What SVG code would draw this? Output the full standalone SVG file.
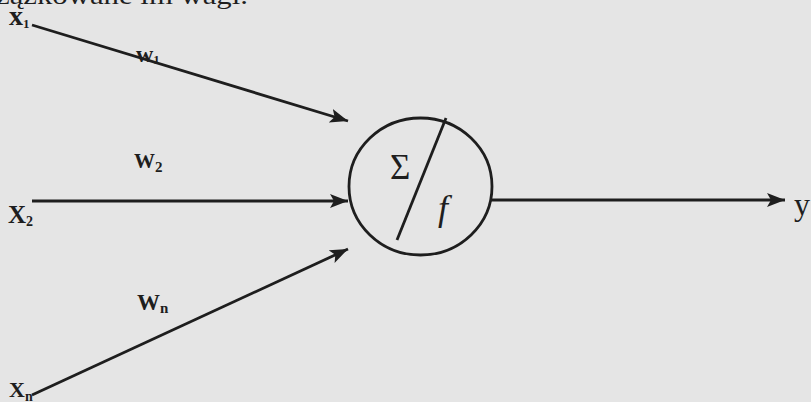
<svg xmlns="http://www.w3.org/2000/svg" width="811" height="402" viewBox="0 0 811 402">
<defs>
<style>
.ln{stroke:#1e1e1e;stroke-width:2.8;fill:none}
.lbl{font-family:"Liberation Serif","DejaVu Serif",serif;fill:#1e1e1e}
.b{font-weight:bold}
</style>
<marker id="ah" markerUnits="userSpaceOnUse" markerWidth="20" markerHeight="16" refX="18" refY="7" orient="auto">
<path d="M0,0 L18,7 L0,14 L4,7 z" fill="#1e1e1e"/>
</marker>
</defs>
<rect width="811" height="402" fill="#e5e5e5"/>
<text class="lbl" x="-4" y="4" font-size="26" textLength="252" lengthAdjust="spacingAndGlyphs">zązkowane im wagi.</text>
<g id="connectors">
<line class="ln" x1="32" y1="25" x2="348" y2="121" marker-end="url(#ah)"/>
<line class="ln" x1="32" y1="201" x2="348" y2="201" marker-end="url(#ah)"/>
<line class="ln" x1="32" y1="395" x2="348" y2="249" marker-end="url(#ah)"/>
<line class="ln" x1="491" y1="200" x2="785" y2="200" marker-end="url(#ah)"/>
</g>
<g id="neuron">
<ellipse class="ln" cx="420.5" cy="186.5" rx="71.5" ry="68.5"/>
<line class="ln" x1="446" y1="118" x2="397" y2="240" stroke-width="2.2"/>
<text class="lbl" x="390" y="179" font-size="35">Σ</text>
<text class="lbl" x="438" y="220" font-size="36" font-style="italic">f</text>
</g>
<g id="x1"><text class="lbl b" x="9" y="25" font-size="28">x<tspan font-size="13" dy="3">1</tspan></text></g>
<g id="x2"><text class="lbl b" x="8" y="223" font-size="25">X<tspan font-size="14" dy="3">2</tspan></text></g>
<g id="xn"><text class="lbl b" x="9" y="397" font-size="22">X<tspan font-size="14" dy="4">n</tspan></text></g>
<g id="y"><text class="lbl" x="794" y="215" font-size="32">y</text></g>
<g id="w1"><text class="lbl b" x="136" y="62" font-size="24">w<tspan font-size="13" dy="2">1</tspan></text></g>
<g id="w2"><text class="lbl b" x="134" y="168" font-size="21">W<tspan font-size="15" dy="4">2</tspan></text></g>
<g id="wn"><text class="lbl b" x="137" y="310" font-size="23">W<tspan font-size="15" dy="3">n</tspan></text></g>
</svg>
